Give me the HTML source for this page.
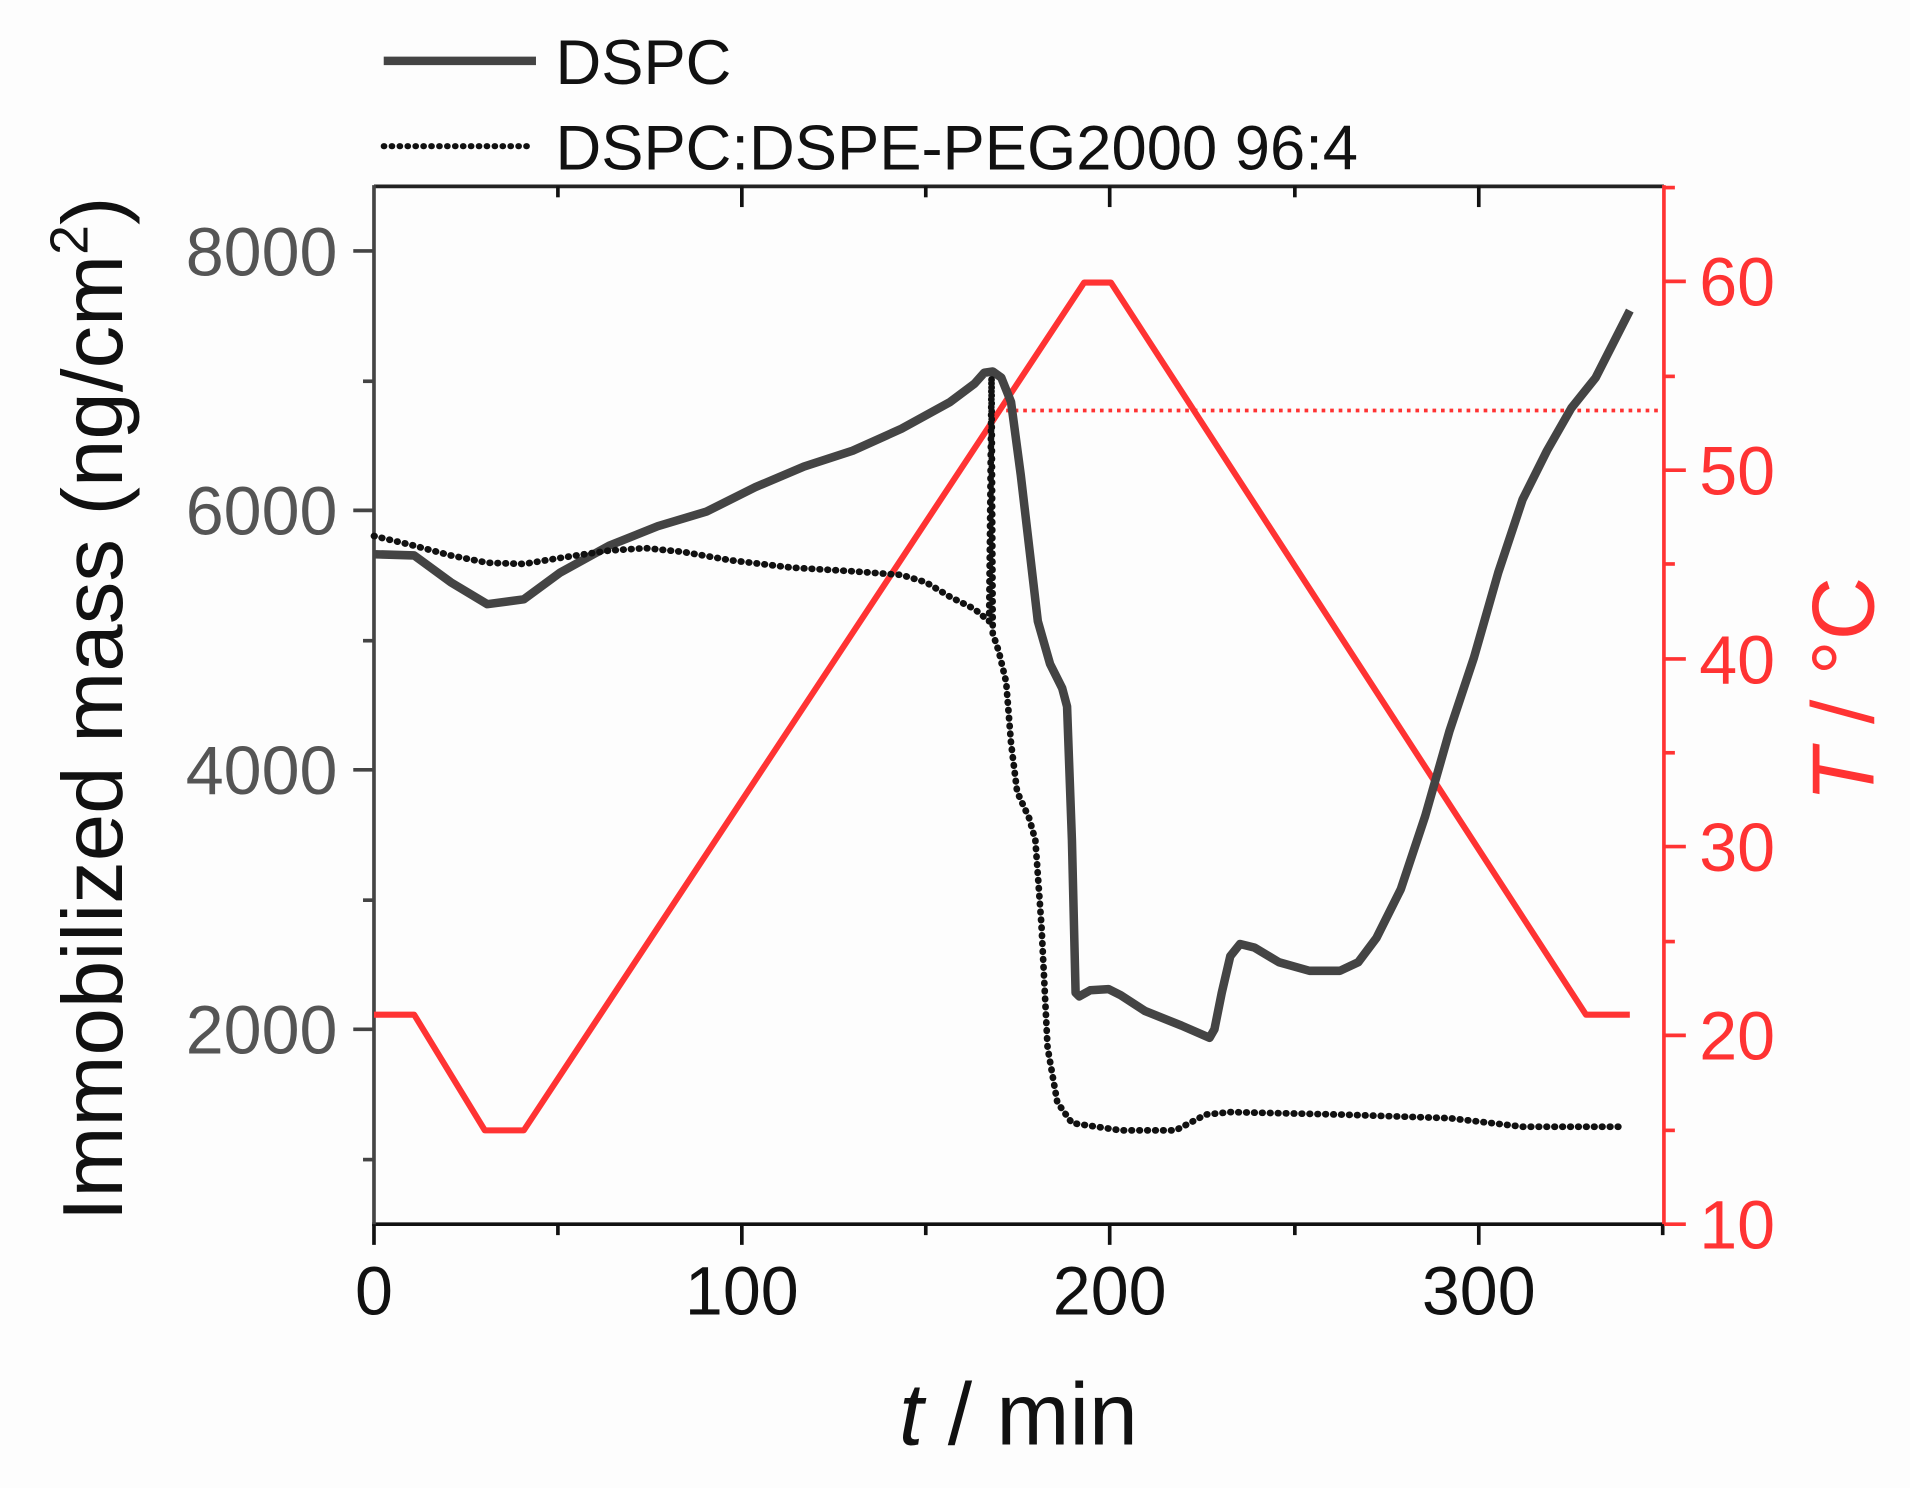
<!DOCTYPE html>
<html><head><meta charset="utf-8"><style>
html,body{margin:0;padding:0;background:#fdfdfd;}
svg{display:block;font-family:"Liberation Sans",Arial,sans-serif;}
</style></head><body>
<svg width="1910" height="1488" viewBox="0 0 1568 1221.6" xmlns="http://www.w3.org/2000/svg">
<rect x="0" y="0" width="1568" height="1222" fill="#fdfdfd"/>
<!-- legend -->
<line x1="315" y1="50" x2="440" y2="50" stroke="#444" stroke-width="7"/>
<text x="456" y="69" font-size="52" fill="#111">DSPC</text>
<line x1="315" y1="120" x2="434" y2="120" stroke="#111" stroke-width="5" stroke-dasharray="0.5 6" stroke-linecap="round"/>
<text x="456" y="139" font-size="52" fill="#111">DSPC:DSPE-PEG2000 96:4</text>

<!-- axes -->
<line x1="307" y1="153" x2="1366" y2="153" stroke="#222" stroke-width="3"/>
<line x1="305.5" y1="1005" x2="1366" y2="1005" stroke="#111" stroke-width="3"/>
<line x1="307" y1="152" x2="307" y2="1006" stroke="#444" stroke-width="3"/>
<line x1="1366" y1="152" x2="1366" y2="1006" stroke="#ff3333" stroke-width="3"/>

<!-- x ticks -->
<g stroke="#111" stroke-width="3">
<line x1="307" y1="1005" x2="307" y2="1022"/><line x1="458" y1="1005" x2="458" y2="1014"/>
<line x1="609" y1="1005" x2="609" y2="1022"/><line x1="760" y1="1005" x2="760" y2="1014"/>
<line x1="911" y1="1005" x2="911" y2="1022"/><line x1="1063" y1="1005" x2="1063" y2="1014"/>
<line x1="1214" y1="1005" x2="1214" y2="1022"/><line x1="1365" y1="1005" x2="1365" y2="1014"/>
<line x1="458" y1="153" x2="458" y2="162"/><line x1="609" y1="153" x2="609" y2="170"/>
<line x1="760" y1="153" x2="760" y2="162"/><line x1="911" y1="153" x2="911" y2="170"/>
<line x1="1063" y1="153" x2="1063" y2="162"/><line x1="1214" y1="153" x2="1214" y2="170"/>
</g>
<g font-size="56" fill="#111" text-anchor="middle">
<text x="307" y="1079">0</text><text x="609" y="1079">100</text>
<text x="911" y="1079">200</text><text x="1214" y="1079">300</text>
</g>

<!-- left ticks -->
<g stroke="#444" stroke-width="3">
<line x1="290" y1="206" x2="307" y2="206"/><line x1="298" y1="313" x2="307" y2="313"/>
<line x1="290" y1="419" x2="307" y2="419"/><line x1="298" y1="526" x2="307" y2="526"/>
<line x1="290" y1="632" x2="307" y2="632"/><line x1="298" y1="739" x2="307" y2="739"/>
<line x1="290" y1="845" x2="307" y2="845"/><line x1="298" y1="952" x2="307" y2="952"/>
</g>
<g font-size="56" fill="#555" text-anchor="end">
<text x="277" y="226">8000</text><text x="277" y="439">6000</text>
<text x="277" y="652">4000</text><text x="277" y="865">2000</text>
</g>

<!-- right ticks -->
<g stroke="#ff3333" stroke-width="3">
<line x1="1366" y1="1005" x2="1384" y2="1005"/><line x1="1366" y1="928" x2="1375" y2="928"/>
<line x1="1366" y1="850" x2="1384" y2="850"/><line x1="1366" y1="773" x2="1375" y2="773"/>
<line x1="1366" y1="695" x2="1384" y2="695"/><line x1="1366" y1="618" x2="1375" y2="618"/>
<line x1="1366" y1="541" x2="1384" y2="541"/><line x1="1366" y1="463" x2="1375" y2="463"/>
<line x1="1366" y1="386" x2="1384" y2="386"/><line x1="1366" y1="309" x2="1375" y2="309"/>
<line x1="1366" y1="231" x2="1384" y2="231"/><line x1="1366" y1="154" x2="1375" y2="154"/>
</g>
<g font-size="56" fill="#ff3333">
<text x="1395" y="1025">10</text><text x="1395" y="870">20</text>
<text x="1395" y="715">30</text><text x="1395" y="561">40</text>
<text x="1395" y="406">50</text><text x="1395" y="251">60</text>
</g>

<!-- titles -->
<text transform="translate(100,582) rotate(-90)" font-size="70" fill="#111" text-anchor="middle">Immobilized mass (ng/cm<tspan font-size="44" dy="-28">2</tspan><tspan dy="28">)</tspan></text>
<text transform="translate(1538,566) rotate(-90)" font-size="72" fill="#ff3333" text-anchor="middle"><tspan font-style="italic">T</tspan> / °C</text>
<text x="836" y="1186" font-size="72" fill="#111" text-anchor="middle"><tspan font-style="italic">t</tspan> / min</text>

<!-- red T -->
<polyline fill="none" stroke="#ff3333" stroke-width="5" stroke-linejoin="round" points="307,833 340,833 398,928 430,928 890,232 912,232 1302,833 1338,833"/>
<line x1="812" y1="337" x2="1366" y2="337" stroke="#ff3333" stroke-width="3" stroke-dasharray="3 4"/>

<!-- DSPC solid -->
<polyline fill="none" stroke="#444" stroke-width="7" stroke-linejoin="round" points="307,455 340,456 370,478 400,496 430,492 460,470 500,448 540,432 580,420 620,400 660,383 700,370 740,352 780,330 800,315 808,306 815,305 822,310 830,330 838,390 845,450 852,510 862,545 872,565 876,580 880,690 883,815 886,818 895,813 910,812 920,817 940,830 970,842 993,852 997,845 1003,815 1010,785 1018,775 1030,778 1050,790 1075,797 1100,797 1115,790 1130,770 1150,730 1170,670 1190,600 1210,540 1230,470 1250,410 1270,370 1290,335 1310,310 1338,255"/>

<!-- dotted -->
<polyline fill="none" stroke="#111" stroke-width="5.5" stroke-dasharray="0.5 6" stroke-linecap="round" stroke-linejoin="round" points="307,440 340,448 370,456 400,462 430,463 460,458 500,452 530,450 560,453 600,460 650,466 700,469 740,472 760,478 780,490 800,500 812,510 814,310 815,520 820,535 826,560 830,610 835,650 845,672 850,690 855,760 860,860 868,905 880,922 920,928 965,928 990,915 1010,913 1100,915 1190,918 1250,925 1330,925"/>
</svg>
</body></html>
